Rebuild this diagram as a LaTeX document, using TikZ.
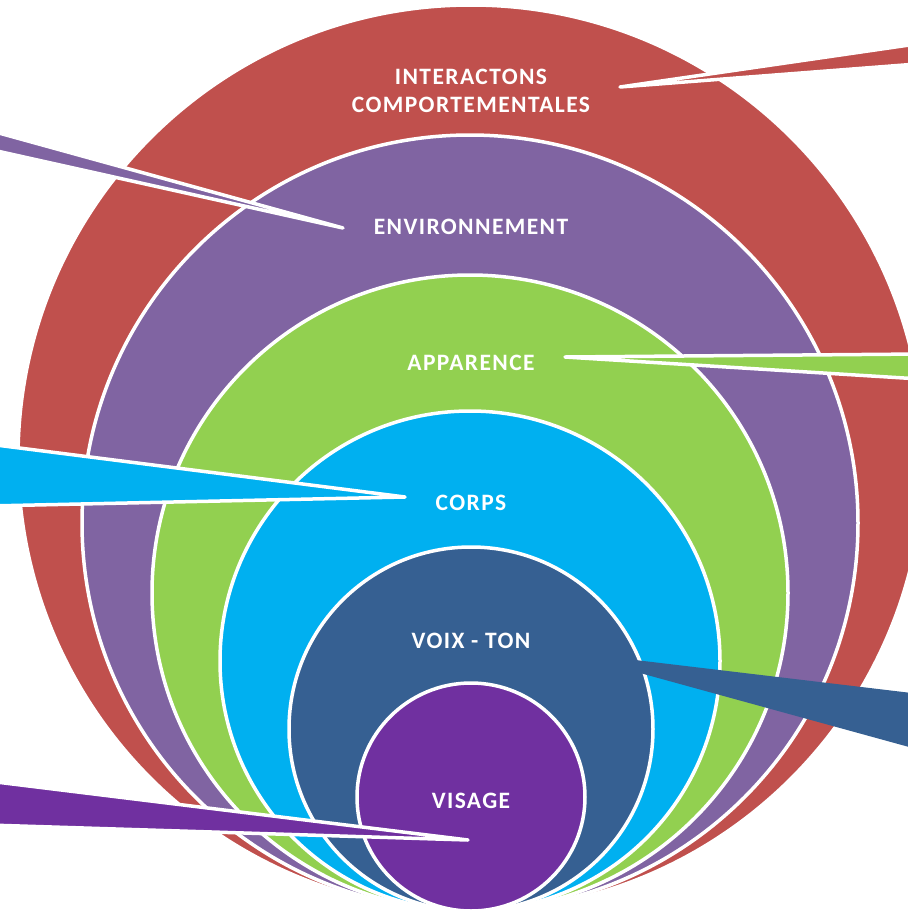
\documentclass[tikz,border=0pt]{standalone}
\usepackage{fontspec}
\setmainfont{Carlito}
\newfontfamily\ringfont[LetterSpace=6]{Carlito}

\definecolor{ringred}{HTML}{C0504D}
\definecolor{ringmauve}{HTML}{8064A2}
\definecolor{ringgreen}{HTML}{92D050}
\definecolor{ringcyan}{HTML}{00B0F0}
\definecolor{ringblue}{HTML}{366092}
\definecolor{ringviolet}{HTML}{7030A0}

\begin{document}
\begin{tikzpicture}[x=1pt,y=-1pt,
        ring/.style={fill=#1,draw=white,line width=3.5pt},
        pointer/.style={fill=#1,draw=white,line width=3.5pt,line join=round},
        ringlabel/.style={text=white,font=\ringfont\bfseries\fontsize{23.5}{28}\selectfont,align=center}]
    \useasboundingbox (0,0) rectangle (908,911);
    \clip (0,0) rectangle (908,911);

    % outer ring and its pointer
    \draw[ring=ringred] (471,458) circle (453pt);
    \draw[pointer=ringred] (620,87) -- (930,42) -- (930,63) -- cycle;

    \draw[ring=ringmauve] (470,523) circle (388pt);
    \draw[pointer=ringmauve] (343,228) -- (-12,130) -- (-12,149) -- cycle;

    \draw[ring=ringgreen] (470,593) circle (318pt);
    \draw[pointer=ringgreen] (565,357) -- (920,354) -- (920,379) -- cycle;

    \draw[ring=ringcyan] (470,661) circle (250pt);
    \draw[pointer=ringcyan] (405,497) -- (-12,444) -- (-12,506) -- cycle;

    \draw[ring=ringblue] (471,729) circle (182pt);
    % no white edge on this one
    \fill[ringblue] (560,651) -- (920,694) -- (920,750) -- cycle;

    \draw[ring=ringviolet] (471,797) circle (114pt);
    \draw[pointer=ringviolet] (468,840) -- (-12,781) -- (-12,825) -- cycle;

    % labels
    \node[ringlabel] (interactions) at (471,91) {INTERACTONS\\COMPORTEMENTALES};
    \node[ringlabel] (environment) at (471,227) {ENVIRONNEMENT};
    \node[ringlabel] (appearance) at (471,363) {APPARENCE};
    \node[ringlabel] (body) at (471,503) {CORPS};
    \node[ringlabel] (voice) at (471,641) {VOIX - TON};
    \node[ringlabel] (face) at (471,801) {VISAGE};
\end{tikzpicture}
\end{document}
